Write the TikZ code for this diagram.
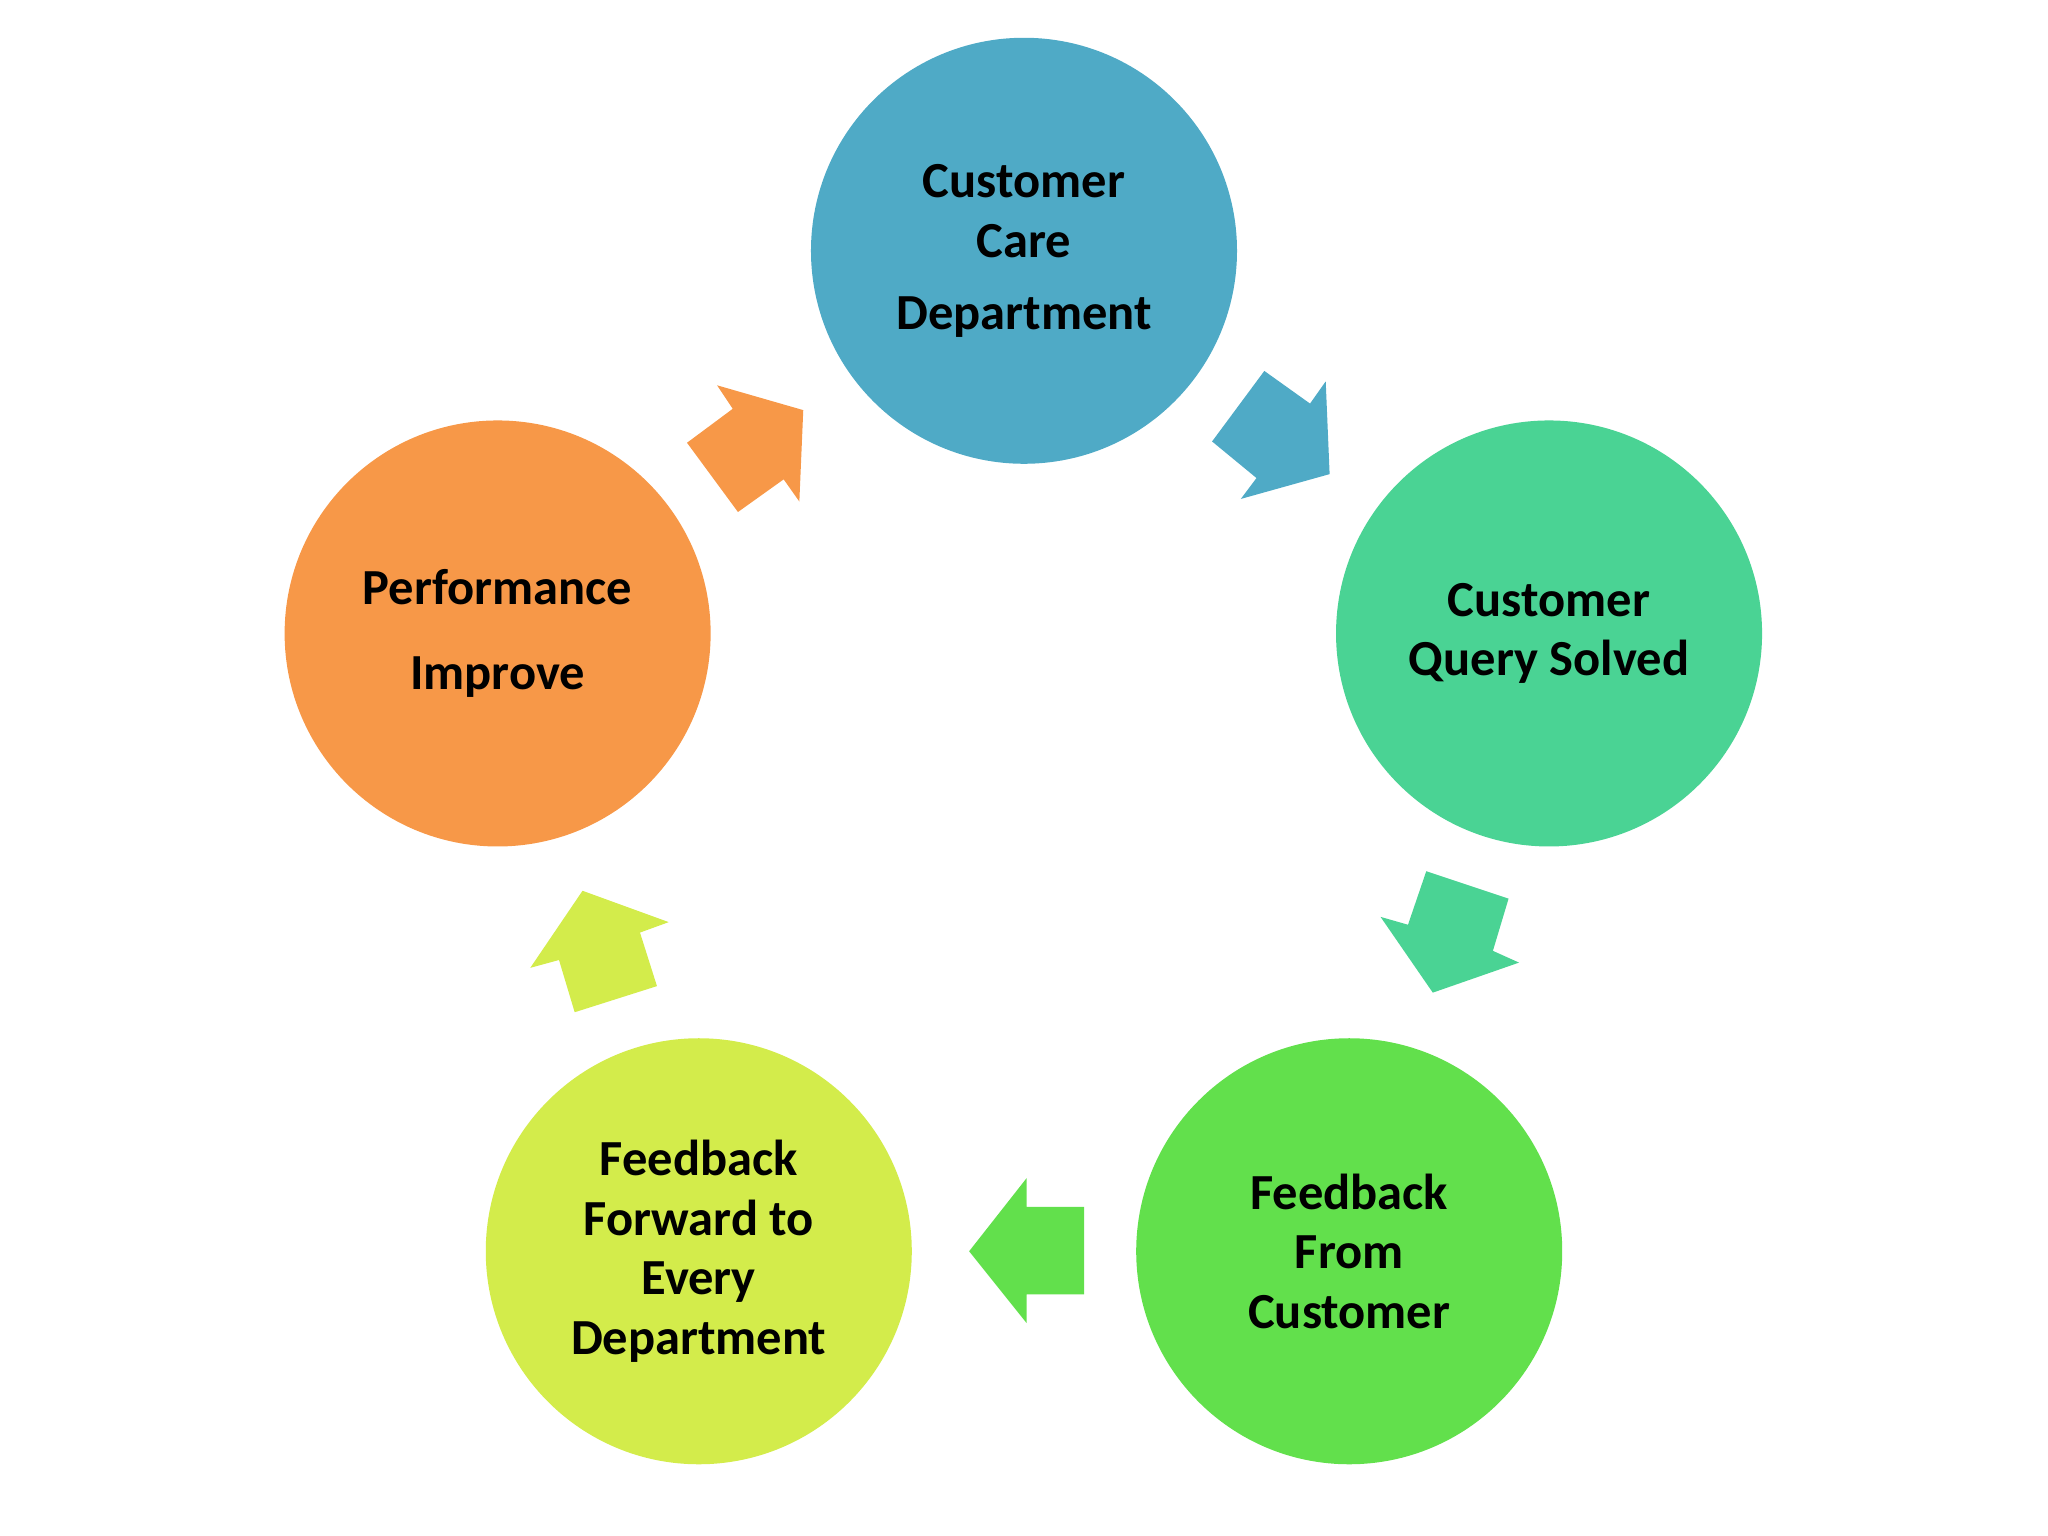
\documentclass[tikz,border=0pt]{standalone}
\usepackage{fontspec}
\setmainfont{Carlito}
\definecolor{cblue}{HTML}{4FAAC6}
\definecolor{cteal}{HTML}{4AD394}
\definecolor{cgreen}{HTML}{62E04C}
\definecolor{cyel}{HTML}{D3EC4B}
\definecolor{corange}{HTML}{F79848}
\begin{document}
\begin{tikzpicture}[x=0.01cm,y=-0.01cm,
  circ/.style={circle,minimum size=3.26cm,inner sep=0pt,align=center,font=\fontsize{11}{13}\selectfont\bfseries},
  arr/.style={fill=#1,draw=none}]
\useasboundingbox (0,0) rectangle (1568,1176);
\node[circ,fill=cblue] (a) at (784,192) {Customer\\Care\\[0.25em]Department};
\node[circ,fill=cteal] (b) at (1186,485) {Customer\\Query Solved};
\node[circ,fill=cgreen] (c) at (1033,958) {Feedback\\From\\Customer};
\node[circ,fill=cyel] (d) at (535,958) {Feedback\\Forward to\\Every\\Department};
\node[circ,fill=corange] (e) at (381,485) {Performance\\[0.5em]Improve};
\fill[cblue] (968,284)--(1003,309)--(1015,292)--(1018,363)--(950,382)--(962,366)--(928,338)--cycle;
\fill[cteal] (1092,667)--(1155,688)--(1143,728)--(1163,737)--(1097,760)--(1057,702)--(1078,708)--cycle;
\fill[cgreen] (830,924)--(830,991)--(786,991)--(786,1013)--(742,958)--(786,902)--(786,924)--cycle;
\fill[cyel] (440,775)--(503,755)--(490,714)--(512,706)--(446,682)--(406,741)--(428,735)--cycle;
\fill[corange] (565,392)--(600,367)--(612,384)--(615,314)--(549,295)--(561,313)--(526,339)--cycle;
\end{tikzpicture}
\end{document}
